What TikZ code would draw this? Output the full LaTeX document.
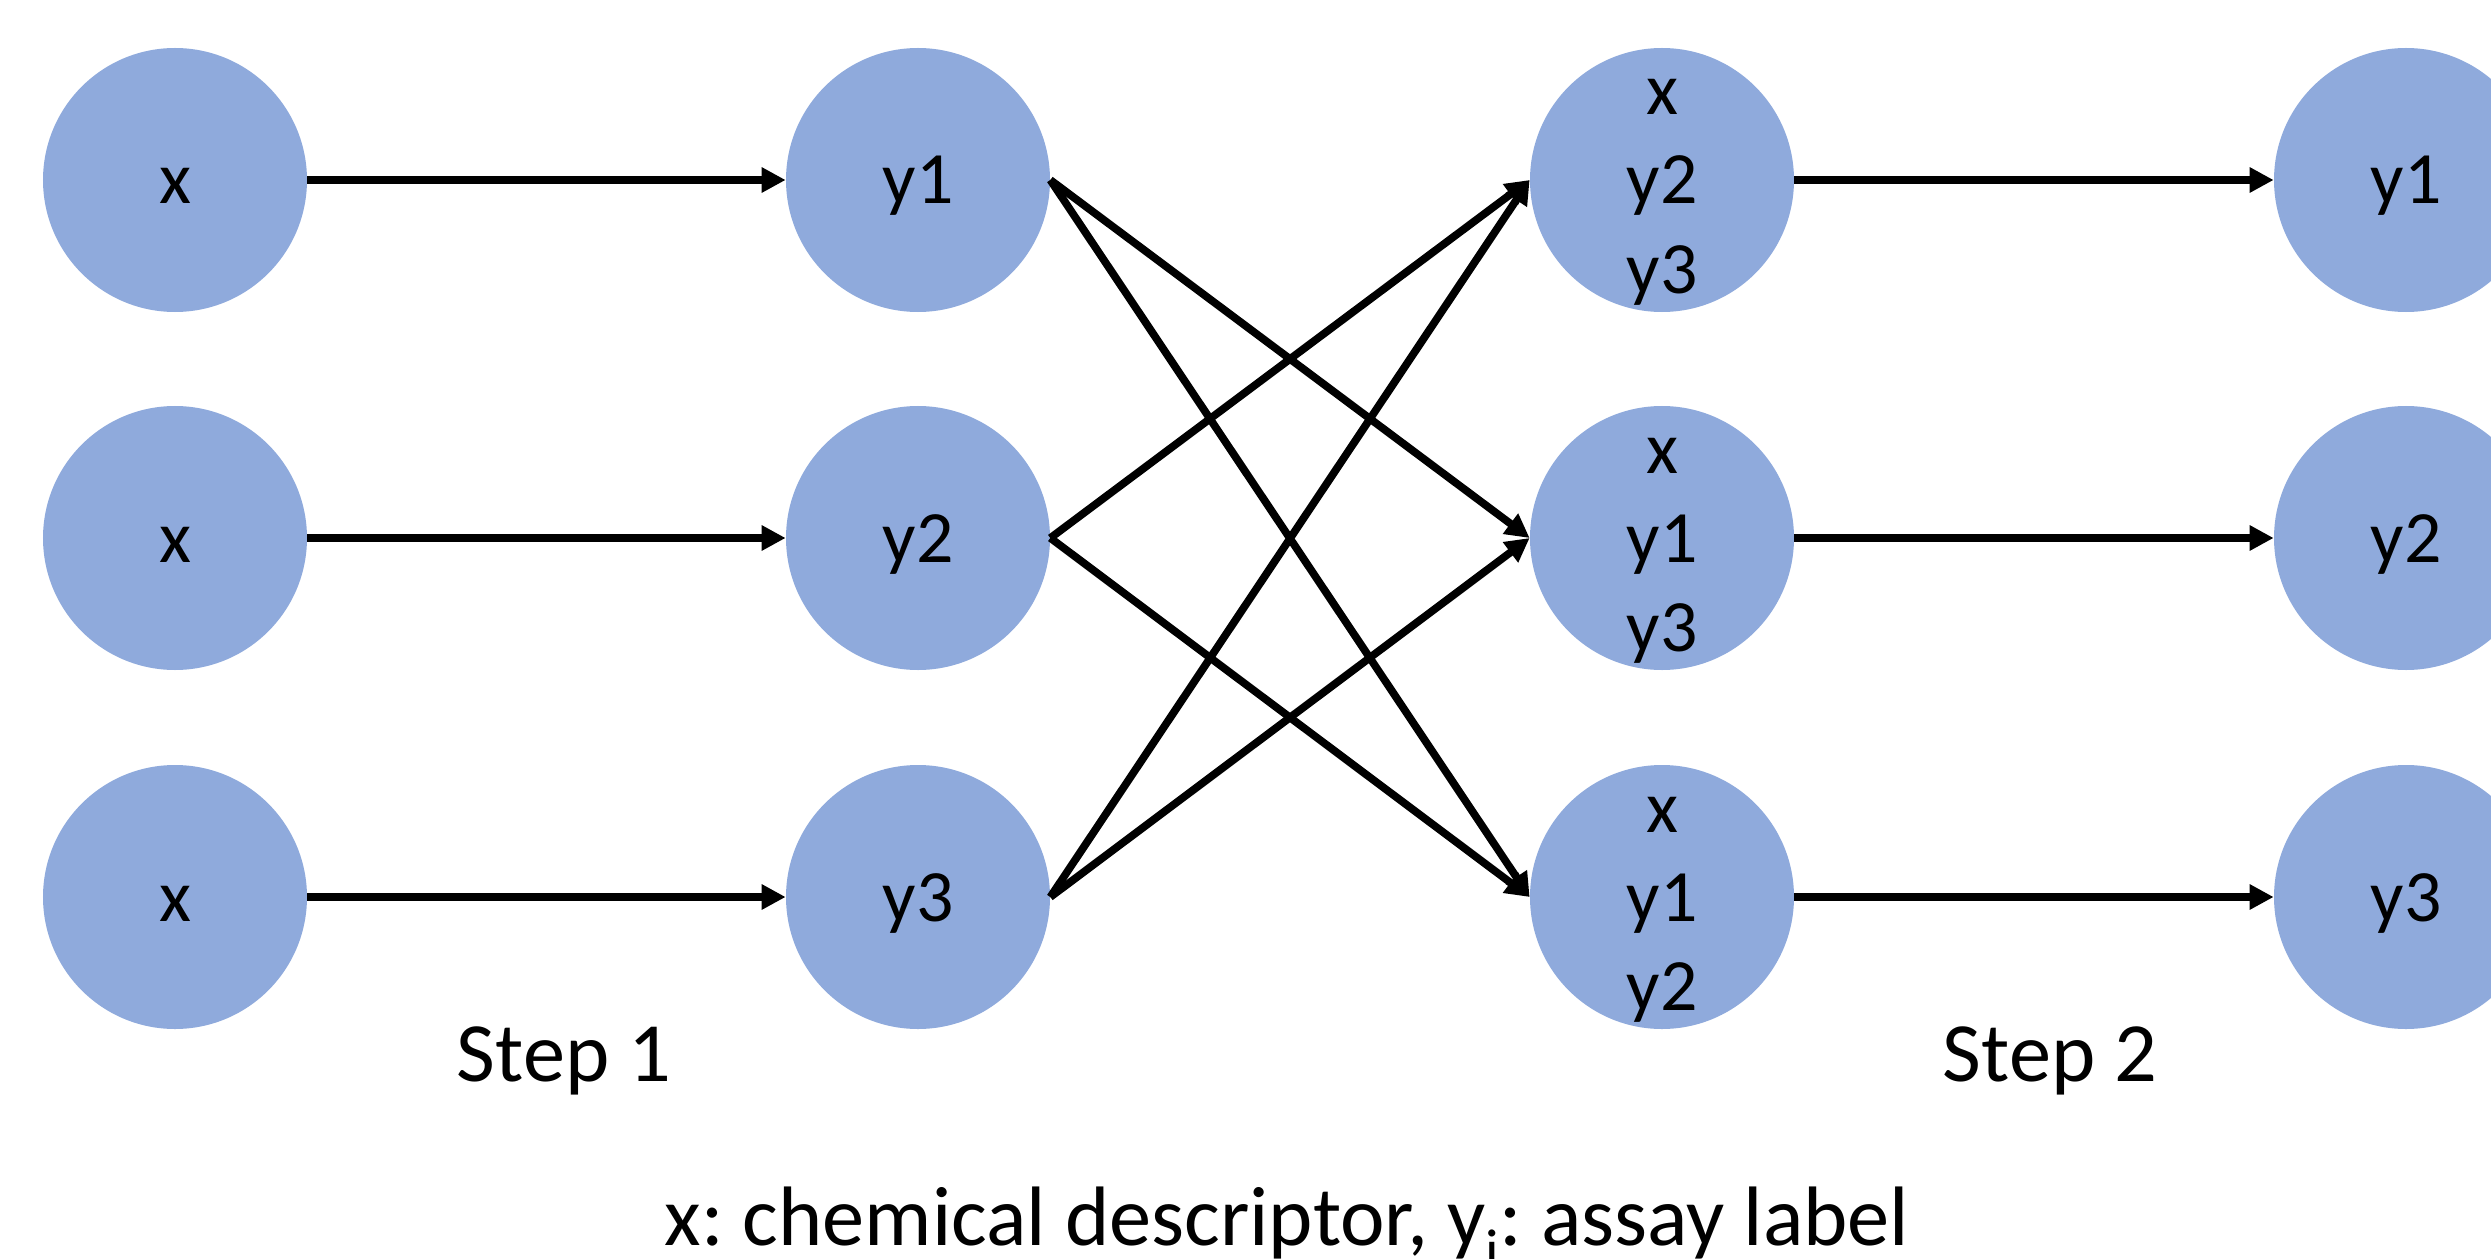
\documentclass[tikz,border=0pt]{standalone}
\usepackage{fontspec}
\setmainfont{Carlito}
\usetikzlibrary{arrows.meta}
\definecolor{ballblue}{HTML}{8FAADC}
\frenchspacing
\begin{document}
\begin{tikzpicture}[
  x=0.2mm, y=-0.2mm,
  ball/.style={circle, fill=ballblue, minimum size=52.8mm, inner sep=0pt},
  lbl/.style={anchor=base, inner sep=0pt, font=\fontsize{42}{50}\selectfont},
  steplbl/.style={anchor=base, inner sep=0pt, font=\fontsize{48}{58}\selectfont},
  link/.style={line width=4.4pt, -{Triangle[width=4.8mm, length=4.8mm]}}
]
\useasboundingbox (0,0) rectangle (2491,1259);

% four columns of circles, three rows
\foreach \c/\xx in {a/175, b/918, c/1662, d/2406}{
  \foreach \r/\yy in {1/180, 2/538, 3/897}{
    \node[ball] (\c\r) at (\xx,\yy) {};
  }
}

% single labels (baseline a little below the centre)
\foreach \r in {1,2,3}{
  \node[lbl] (ta\r) at ([yshift=-4.8mm]a\r.center) {x};
  \node[lbl] (tb\r) at ([yshift=-4.8mm]b\r.center) {y\r};
  \node[lbl] (td\r) at ([yshift=-4.8mm]d\r.center) {y\r};
}

% stacked labels in the third column
\foreach \r/\p/\q in {1/y2/y3, 2/y1/y3, 3/y1/y2}{
  \node[lbl] (tc\r x) at ([yshift=13mm]c\r.center) {x};
  \node[lbl] (tc\r p) at ([yshift=-4.8mm]c\r.center) {\p};
  \node[lbl] (tc\r q) at ([yshift=-22.6mm]c\r.center) {\q};
}

% straight links
\foreach \r in {1,2,3}{
  \draw[link] (a\r.east) -- (b\r.west);
  \draw[link] (c\r.east) -- (d\r.west);
}

% crossing links
\draw[link] (b1.east) -- (c2.west);
\draw[link] (b1.east) -- (c3.west);
\draw[link] (b2.east) -- (c1.west);
\draw[link] (b2.east) -- (c3.west);
\draw[link] (b3.east) -- (c1.west);
\draw[link] (b3.east) -- (c2.west);

% captions
\node[steplbl] (s1) at (564,1081) {Step 1};
\node[steplbl] (s2) at (2050,1081) {Step 2};
\node[steplbl] (legend) at (1287,1245) {x: chemical descriptor, y\textsubscript{i}: assay label};
\end{tikzpicture}
\end{document}
